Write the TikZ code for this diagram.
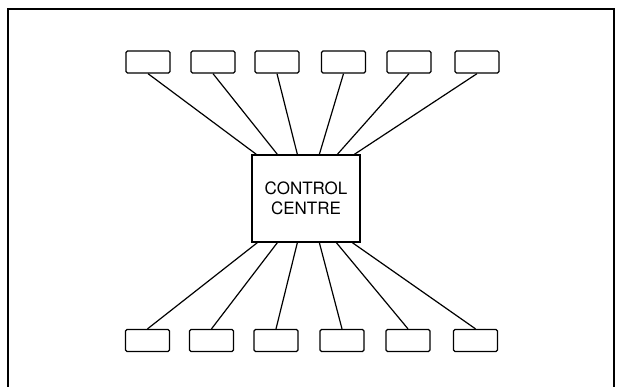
\documentclass[tikz,border=0pt]{standalone}
\usepackage{fontspec}
\setmainfont{TeX Gyre Heros}
\usetikzlibrary{calc}
\begin{document}
\begin{tikzpicture}[x=1pt,y=-1pt,
  unit/.style={draw,line width=1.3pt,rounded corners=1.5pt,minimum width=44pt,minimum height=22pt,inner sep=0pt},
  centre/.style={draw,line width=1.3pt,minimum width=108pt,minimum height=87pt,inner sep=0pt,align=center,font=\fontsize{17}{20}\selectfont},
  link/.style={line width=1.2pt},
  frame/.style={line width=2pt}]
\useasboundingbox (0,0) rectangle (617,386);
\draw[frame] (8,390) -- (8,9) -- (614,9) -- (614,390);
\node[centre] (cc) at (306,198.5) {CONTROL\\CENTRE};
\foreach \i/\x in {1/148,2/213,3/277,4/343.5,5/409,6/477}
  \node[unit] (t\i) at (\x,62) {};
\foreach \i/\x in {1/147.5,2/211.5,3/276,4/342,5/408,6/475.5}
  \node[unit] (b\i) at (\x,340.5) {};
\foreach \i/\d in {1/5,2/26,3/46,4/68,5/86,6/103}
  \draw[link] (t\i.south) -- ($(cc.north west)+(\d,0)$);
\foreach \i/\d in {1/6,2/26,3/46,4/68,5/85,6/101}
  \draw[link] ($(cc.south west)+(\d,0)$) -- (b\i.north);
\end{tikzpicture}
\end{document}
